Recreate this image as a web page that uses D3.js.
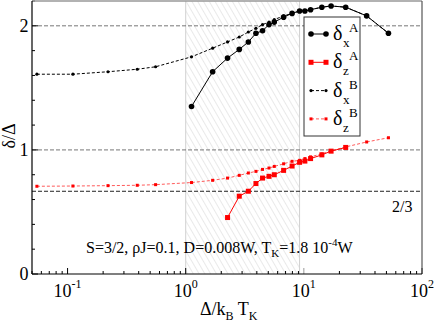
<!DOCTYPE html>
<html>
<head>
<meta charset="utf-8">
<script src="https://cdn.jsdelivr.net/npm/d3@7"></script>
</head>
<body style="margin:0;background:#fff">
<svg width="436" height="324"></svg>
<script>
// x values (Delta / kB TK) shared by the series
const xsB = [0.055, 0.111, 0.22, 0.389, 0.556, 1.12, 1.69, 2.26, 2.84, 3.39, 3.93, 4.47,
             5.07, 5.62, 6.74, 7.95, 9.2, 10.2, 11.4, 14.2, 17.0, 22.6, 34.0, 52.0];
const xsA = xsB.slice(5);          // delta_x^A starts at 1.12
const xsZA = xsB.slice(7, 22);     // delta_z^A from 2.26 to 22.6

// series values
const deltaXA = [1.35, 1.63, 1.74, 1.81, 1.87, 1.94, 1.96, 2.01, 2.03, 2.07, 2.10, 2.12,
                 2.12, 2.13, 2.15, 2.16, 2.15, 2.08, 1.94];
const deltaZA = [0.455, 0.627, 0.667, 0.729, 0.773, 0.787, 0.80, 0.835, 0.87, 0.90, 0.91,
                 0.93, 0.96, 0.99, 1.02];
const deltaXB = [1.61, 1.61, 1.63, 1.65, 1.67, 1.75, 1.82, 1.87, 1.91, 1.95, 1.98, 2.01,
                 2.03, 2.05, 2.08, 2.10, 2.12, 2.12, 2.13, 2.15, 2.16, 2.15, 2.08, 1.94];
const deltaZB = [0.707, 0.709, 0.712, 0.715, 0.72, 0.737, 0.755, 0.773, 0.795, 0.814, 0.827,
                 0.843, 0.854, 0.867, 0.888, 0.908, 0.916, 0.93, 0.944, 0.968, 0.992, 1.024,
                 1.064, 1.098];

// reference lines and tick labels
const refLines = [2, 1, 2 / 3];
const xTickExps = [-1, 0, 1, 2];
const yTickLabels = [0, 1, 2];
const shadedRange = [1, 9.2];

const svg = d3.select('svg');
const margin = { left: 32, right: 422, top: 1, bottom: 274 };
const serif = "'Liberation Serif'";

const x = d3.scaleLog().domain([0.05, 100]).range([margin.left, margin.right]);
const y = d3.scaleLinear().domain([0, 2.2]).range([margin.bottom, margin.top]);

// all text goes through here so the serif face is set inline
function addText(parent, px, py, size) {
  return parent.append('text')
    .attr('x', px).attr('y', py)
    .attr('font-size', size)
    .attr('fill', '#000')
    .style('font-family', serif);
}

// hatch pattern for the shaded window
const defs = svg.append('defs');
const pat = defs.append('pattern')
  .attr('id', 'hatch')
  .attr('patternUnits', 'userSpaceOnUse')
  .attr('width', 5).attr('height', 5)
  .attr('patternTransform', 'rotate(-30)');
pat.append('line')
  .attr('x1', 0).attr('y1', 0).attr('x2', 0).attr('y2', 5)
  .attr('stroke', '#d4d4d4').attr('stroke-width', 1);

svg.append('rect')
  .attr('x', x(shadedRange[0]))
  .attr('y', margin.top)
  .attr('width', x(shadedRange[1]) - x(shadedRange[0]))
  .attr('height', margin.bottom - margin.top)
  .attr('fill', 'url(#hatch)');
shadedRange.forEach(v => {
  svg.append('line')
    .attr('x1', x(v)).attr('x2', x(v))
    .attr('y1', margin.top).attr('y2', margin.bottom)
    .attr('stroke', '#d0d0d0').attr('stroke-width', 1);
});

// dashed reference lines
refLines.forEach((v, i) => {
  svg.append('line')
    .attr('x1', margin.left).attr('x2', margin.right)
    .attr('y1', y(v)).attr('y2', y(v))
    .attr('stroke', i < 2 ? '#777' : '#222')
    .attr('stroke-width', 1)
    .attr('stroke-dasharray', '4,2');
});

// axis ticks (pointing inwards)
const yMinor = d3.range(0, 2.21, 0.2);
yMinor.forEach(v => {
  const major = Math.abs(v - Math.round(v)) < 1e-6;
  svg.append('line')
    .attr('x1', margin.left).attr('x2', margin.left + (major ? 6 : 3))
    .attr('y1', y(v)).attr('y2', y(v))
    .attr('stroke', '#000');
});
const xMinor = [];
[-2, -1, 0, 1].forEach(e => {
  for (let m = 1; m <= 9; m++) {
    const v = m * Math.pow(10, e);
    if (v >= 0.05 && v <= 100) xMinor.push({ v, major: m === 1 });
  }
});
xMinor.push({ v: 100, major: true });
xMinor.forEach(t => {
  svg.append('line')
    .attr('x1', x(t.v)).attr('x2', x(t.v))
    .attr('y1', margin.bottom).attr('y2', margin.bottom - (t.major ? 6 : 3))
    .attr('stroke', t.v > 5 && t.v < 12 && t.major ? '#999' : '#000');
});

// series
const line = d3.line().x(d => x(d[0])).y(d => y(d[1]));
const zip = (xs, ys) => xs.map((v, i) => [v, ys[i]]);

const series = [
  { data: zip(xsB, deltaXB), color: '#000', lineColor: '#000', dash: '3,2', shape: 'circle', size: 1.6 },
  { data: zip(xsB, deltaZB), color: '#f00', lineColor: '#ff5a5a', dash: '3,2', shape: 'square', size: 3 },
  { data: zip(xsA, deltaXA), color: '#000', lineColor: '#000', dash: null, shape: 'circle', size: 2.8 },
  { data: zip(xsZA, deltaZA), color: '#f00', lineColor: '#f00', dash: null, shape: 'square', size: 5 }
];

function drawMarker(g, cx, cy, s) {
  if (s.shape === 'circle') {
    g.append('circle').attr('cx', cx).attr('cy', cy).attr('r', s.size).attr('fill', s.color);
  } else {
    g.append('rect').attr('x', cx - s.size / 2).attr('y', cy - s.size / 2)
      .attr('width', s.size).attr('height', s.size).attr('fill', s.color);
  }
}

series.forEach(s => {
  const g = svg.append('g');
  g.append('path')
    .attr('d', line(s.data))
    .attr('fill', 'none')
    .attr('stroke', s.lineColor)
    .attr('stroke-width', 1)
    .attr('stroke-dasharray', s.dash);
  s.data.forEach(d => drawMarker(g, x(d[0]), y(d[1]), s));
});

// frame
svg.append('line').attr('x1', margin.left).attr('x2', margin.right)
  .attr('y1', margin.top).attr('y2', margin.top).attr('stroke', '#999').attr('stroke-width', 1.5);
svg.append('line').attr('x1', margin.right).attr('x2', margin.right)
  .attr('y1', margin.top).attr('y2', margin.bottom).attr('stroke', '#555').attr('stroke-width', 1.2);
svg.append('line').attr('x1', margin.left).attr('x2', margin.left)
  .attr('y1', margin.top).attr('y2', margin.bottom).attr('stroke', '#000').attr('stroke-width', 1.2);
svg.append('line').attr('x1', margin.left).attr('x2', margin.right)
  .attr('y1', margin.bottom).attr('y2', margin.bottom).attr('stroke', '#000').attr('stroke-width', 1.2);

// tick labels
xTickExps.forEach(e => {
  const t = addText(svg, x(Math.pow(10, e)), 297, 18).attr('text-anchor', 'middle');
  t.append('tspan').text('10');
  t.append('tspan').attr('dy', -9).attr('font-size', 12).text(e < 0 ? '-' + (-e) : e);
});
yTickLabels.forEach(v => {
  addText(svg, 24, y(v) + 6, 18).attr('text-anchor', 'middle').text(v);
});

// axis titles
const xt = addText(svg, 200, 315, 18);
xt.append('tspan').text('Δ/k');
xt.append('tspan').attr('dy', 5).attr('font-size', 12).text('B');
xt.append('tspan').attr('dy', -5).text(' T');
xt.append('tspan').attr('dy', 5).attr('font-size', 12).text('K');

addText(svg, 0, 0, 18)
  .attr('transform', 'translate(15,136) rotate(-90)')
  .attr('text-anchor', 'middle')
  .text('δ/Δ');

// annotations
addText(svg, 392, 212, 16).text('2/3');
const ann = addText(svg, 86, 253, 16);
ann.append('tspan').text('S=3/2, ρJ=0.1, D=0.008W, T');
ann.append('tspan').attr('dy', 4).attr('font-size', 11).text('K');
ann.append('tspan').attr('dy', -4).text('=1.8 10');
ann.append('tspan').attr('dy', -7).attr('font-size', 11).text('-4');
ann.append('tspan').attr('dy', 7).text('W');

// legend
const legend = svg.append('g');
legend.append('rect')
  .attr('x', 304).attr('y', 17).attr('width', 56).attr('height', 119)
  .attr('fill', '#fff').attr('stroke', '#333').attr('stroke-width', 1);
const legendItems = [
  { s: series[2], sub: 'x', sup: 'A' },
  { s: series[3], sub: 'z', sup: 'A' },
  { s: series[0], sub: 'x', sup: 'B' },
  { s: series[1], sub: 'z', sup: 'B' }
];
legendItems.forEach((it, i) => {
  const ly = 34 + i * 28.3;
  legend.append('line')
    .attr('x1', 311).attr('x2', 326).attr('y1', ly).attr('y2', ly)
    .attr('stroke', it.s.lineColor).attr('stroke-dasharray', it.s.dash);
  drawMarker(legend, 311, ly, it.s);
  drawMarker(legend, 326, ly, it.s);
  addText(legend, 333, ly + 6, 20).text('δ');
  addText(legend, 343, ly + 13, 13).text(it.sub);
  addText(legend, 349, ly - 2, 13).text(it.sup);
});
</script>
</body>
</html>
